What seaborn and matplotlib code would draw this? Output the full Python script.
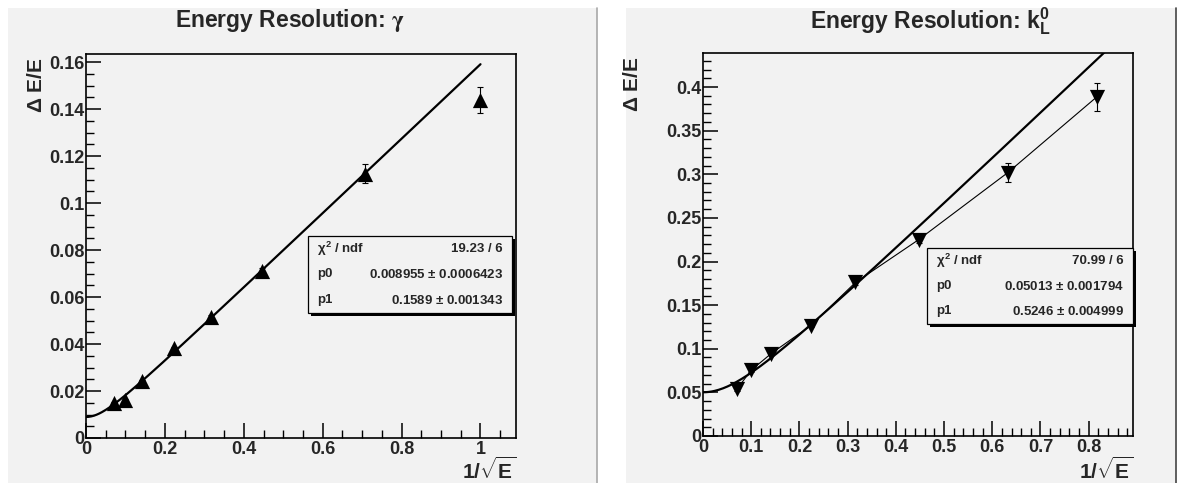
import numpy as np
import pandas as pd
import seaborn as sns
import matplotlib.pyplot as plt
from matplotlib.patches import Rectangle
from matplotlib.ticker import MultipleLocator, FuncFormatter

# --- data ---
x_gamma = [0.0707, 0.1, 0.1414, 0.2236, 0.3162, 0.4472, 0.7071, 1.0]
y_gamma = [0.0148, 0.0162, 0.0244, 0.0382, 0.0514, 0.0712, 0.1126, 0.1438]
err_gamma = [0.0004, 0.0004, 0.0005, 0.0006, 0.0008, 0.0012, 0.0042, 0.0055]
fit_gamma = {"chi2": "19.23 / 6", "p0": 0.008955, "p0_err": "0.0006423",
             "p1": 0.1589, "p1_err": "0.001343"}

x_kl = [0.0707, 0.1, 0.1414, 0.2236, 0.3162, 0.4472, 0.6325, 0.8165]
y_kl = [0.054, 0.0754, 0.0945, 0.1266, 0.176, 0.225, 0.302, 0.3885]
err_kl = [0.002, 0.002, 0.002, 0.002, 0.003, 0.004, 0.011, 0.016]
fit_kl = {"chi2": "70.99 / 6", "p0": 0.05013, "p0_err": "0.001794",
          "p1": 0.5246, "p1_err": "0.004999"}

W, H = 1187, 483
BG = "#f2f2f2"

sns.set_theme(style="ticks")
plt.rcParams["font.family"] = ["Liberation Sans", "DejaVu Sans"]
plt.rcParams["font.weight"] = "bold"
plt.rcParams["mathtext.fontset"] = "custom"
plt.rcParams["mathtext.rm"] = "Liberation Sans:bold"
plt.rcParams["mathtext.bf"] = "Liberation Sans:bold"
plt.rcParams["mathtext.it"] = "Liberation Sans:bold"

fig = plt.figure(figsize=(W / 100, H / 100), dpi=100, facecolor="white")


def fx(px):
    return px / W


def fy(py):
    return 1 - py / H


# gray pads behind each plot
fig.patches.append(Rectangle((fx(8), 0), fx(597) - fx(8), fy(8), transform=fig.transFigure,
                             facecolor=BG, edgecolor="none", zorder=-2))
fig.add_artist(plt.Line2D([fx(597), fx(597)], [0, fy(8)], color="#a8a8a8", lw=1.2))
fig.patches.append(Rectangle((fx(626), 0), fx(1176) - fx(626), fy(8), transform=fig.transFigure,
                             facecolor=BG, edgecolor="none", zorder=-2))
fig.add_artist(plt.Line2D([fx(1176), fx(1176)], [0, fy(8)], color="#444444", lw=1.2))


def fmt(v, pos):
    s = f"{v:.3f}".rstrip("0").rstrip(".")
    return "0" if s in ("0", "-0") else s


def panel(rect, xs, ys, errs, fit, xmax, ymax, xmaj, xmin, ymaj, ymin, marker,
          fit_end, connect, box, title, title_x, ylab_x, title_math):
    l, t, r, b = rect
    ax = fig.add_axes([fx(l), fy(b), fx(r) - fx(l), fy(t) - fy(b)])
    ax.set_facecolor(BG)

    xf = np.linspace(0, fit_end, 300)
    df_fit = pd.DataFrame({"x": xf, "y": np.sqrt(fit["p0"] ** 2 + (fit["p1"] * xf) ** 2)})
    df = pd.DataFrame({"x": xs, "y": ys, "err": errs})

    ax.errorbar(df["x"], df["y"], yerr=df["err"], fmt="none", ecolor="black",
                elinewidth=0.8, capsize=2, capthick=0.8, zorder=3)
    if connect:
        sns.lineplot(data=df, x="x", y="y", ax=ax, color="black", lw=0.8, sort=False, zorder=2)
    sns.lineplot(data=df_fit, x="x", y="y", ax=ax, color="black", lw=1.6, sort=False, zorder=4)
    sns.scatterplot(data=df, x="x", y="y", ax=ax, marker=marker, color="black", s=120,
                    edgecolor="black", linewidth=0, zorder=5)

    ax.set_xlim(0, xmax)
    ax.set_ylim(0, ymax)
    ax.set_xlabel("")
    ax.set_ylabel("")
    ax.xaxis.set_major_locator(MultipleLocator(xmaj))
    ax.xaxis.set_minor_locator(MultipleLocator(xmin))
    ax.yaxis.set_major_locator(MultipleLocator(ymaj))
    ax.yaxis.set_minor_locator(MultipleLocator(ymin))
    ax.xaxis.set_major_formatter(FuncFormatter(fmt))
    ax.yaxis.set_major_formatter(FuncFormatter(fmt))
    ax.tick_params(which="both", direction="in", color="black", labelsize=13,
                   top=False, right=False)
    ax.tick_params(axis="x", which="major", length=11, width=1.1, pad=2)
    ax.tick_params(axis="x", which="minor", length=5.5, width=1.0)
    ax.tick_params(axis="y", which="major", length=11, width=1.1, pad=1)
    ax.tick_params(axis="y", which="minor", length=5.5, width=1.0)
    for lab in ax.get_xticklabels() + ax.get_yticklabels():
        lab.set_fontweight("bold")
    # nudge the two "0" labels at the origin apart a little
    ax.get_yticklabels()[0].set_verticalalignment("bottom")
    for sp in ax.spines.values():
        sp.set_linewidth(1.2)
        sp.set_color("black")

    # titles and axis labels
    fig.text(fx(title_x), fy(21), title, ha="center", va="center", fontsize=16.5,
             fontweight="bold", math_fontfamily=title_math)
    fig.text(fx(ylab_x), fy(t + 3), r"$\Delta$ E/E", rotation=90, ha="center", va="top",
             fontsize=15, fontweight="bold")
    fig.text(fx(r), fy(470), r"1/$\sqrt{\mathrm{E}}$", ha="right", va="center",
             fontsize=15, fontweight="bold")

    # fit statistics box
    bl, bt, br, bb = box
    fig.patches.append(Rectangle((fx(bl + 3), fy(bb + 3)), fx(br) - fx(bl), fy(bt) - fy(bb),
                                 transform=fig.transFigure, facecolor="black",
                                 edgecolor="none", zorder=6))
    fig.patches.append(Rectangle((fx(bl), fy(bb)), fx(br) - fx(bl), fy(bt) - fy(bb),
                                 transform=fig.transFigure, facecolor=BG,
                                 edgecolor="black", lw=0.9, zorder=7))
    rows = [(r"$\chi^2$ / ndf", fit["chi2"]),
            ("p0", f"{fit['p0']} $\\pm$ {fit['p0_err']}"),
            ("p1", f"{fit['p1']} $\\pm$ {fit['p1_err']}")]
    step = (bb - bt) / 3
    for i, (k, v) in enumerate(rows):
        yy = bt + step * (i + 0.5)
        fig.text(fx(bl + 9), fy(yy), k, ha="left", va="center", fontsize=9.5,
                 fontweight="bold", zorder=8)
        fig.text(fx(br - 9), fy(yy), v, ha="right", va="center", fontsize=9.5,
                 fontweight="bold", zorder=8)
    return ax


panel((86, 54, 516, 438), x_gamma, y_gamma, err_gamma, fit_gamma, 1.09, 0.1635,
      0.2, 0.05, 0.02, 0.005, "^", 1.0, False, (308, 236, 512, 313),
      r"Energy Resolution: $\mathrm{\gamma}$", 290, 36, "stix")
panel((703, 53, 1133, 436), x_kl, y_kl, err_kl, fit_kl, 0.892, 0.439,
      0.1, 0.02, 0.05, 0.01, "v", 0.892, True, (927, 248, 1133, 324),
      r"Energy Resolution: $\mathbf{k_L^0}$", 930, 632, "custom")

fig.savefig("out.png", dpi=100, facecolor="white")
